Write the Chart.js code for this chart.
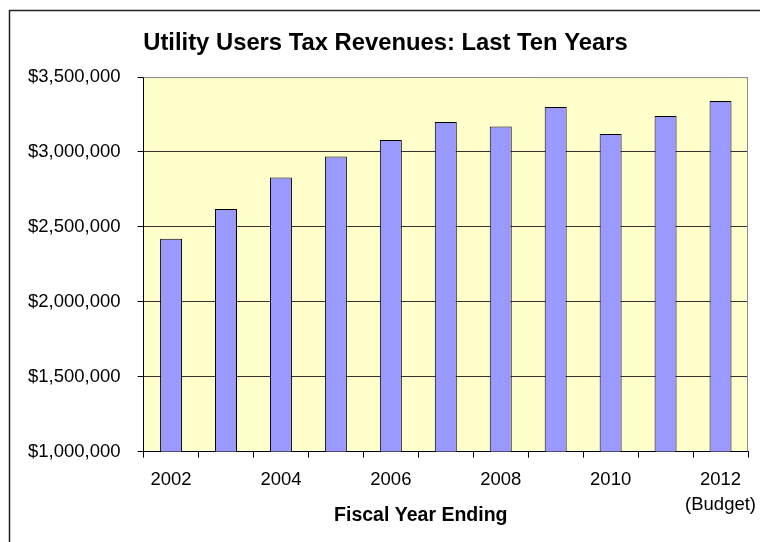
<!DOCTYPE html>
<html>
<head>
<meta charset="utf-8">
<script src="https://cdn.jsdelivr.net/npm/chart.js@4/dist/chart.umd.min.js"></script>
<style>
  html, body { margin: 0; padding: 0; background: #fff; }
  #wrap { width: 760px; height: 542px; position: relative; }
</style>
</head>
<body>
<div id="wrap"><canvas id="uutChart"></canvas></div>
<script>
const years = ["2002", "2003", "2004", "2005", "2006", "2007", "2008", "2009", "2010", "2011", "2012"];
const revenues = [2420000, 2620000, 2830000, 2970000, 3080000, 3200000, 3170000, 3300000, 3120000, 3240000, 3340000];
// every other year is labelled, the last one is the budget year
const tickLabels = ["2002", "", "2004", "", "2006", "", "2008", "", "2010", "", ["2012", "(Budget)"]];
const yTicks = [1000000, 1500000, 2000000, 2500000, 3000000, 3500000];

const FONT = "'Liberation Sans', Arial, sans-serif";

// white page, outer frame, yellow plot area
const frame = {
  id: "frame",
  beforeDraw(chart) {
    const ctx = chart.ctx;
    const a = chart.chartArea;
    ctx.save();
    ctx.fillStyle = "#fff";
    ctx.fillRect(0, 0, chart.width, chart.height);
    ctx.strokeStyle = "#222";
    ctx.lineWidth = 1.5;
    ctx.strokeRect(9.5, 10.5, chart.width + 20, chart.height + 20);
    ctx.fillStyle = "#FFFFCC";
    ctx.fillRect(a.left, a.top, a.right - a.left, a.bottom - a.top);
    ctx.restore();
  },
  afterDraw(chart) {
    const ctx = chart.ctx;
    const a = chart.chartArea;
    ctx.save();
    ctx.strokeStyle = "#8c8c8c";
    ctx.lineWidth = 1;
    ctx.beginPath();
    ctx.moveTo(a.left, a.top + 0.5);
    ctx.lineTo(a.right - 0.5, a.top + 0.5);
    ctx.lineTo(a.right - 0.5, a.bottom);
    ctx.stroke();
    // axis title
    ctx.fillStyle = "#000";
    ctx.font = "bold 19.5px " + FONT;
    ctx.textAlign = "center";
    ctx.textBaseline = "middle";
    ctx.fillText("Fiscal Year Ending", (a.left + a.right) / 2 - 25, a.bottom + 64);
    ctx.restore();
  }
};

const data = {
  labels: years,
  datasets: [{
    label: "Utility Users Tax",
    data: revenues,
    backgroundColor: "#9999FF",
    borderColor: "#000",
    borderWidth: 1,
    barPercentage: 0.4,
    categoryPercentage: 1.0
  }]
};

const config = {
  type: "bar",
  data,
  plugins: [frame],
  options: {
    responsive: true,
    maintainAspectRatio: false,
    animation: false,
    layout: { padding: { left: 23, right: 12, top: 0, bottom: 14.5 } },
    plugins: {
      legend: { display: false },
      tooltip: { enabled: false },
      title: {
        display: true,
        text: "Utility Users Tax Revenues: Last Ten Years",
        color: "#000",
        font: { family: FONT, size: 23.8, weight: "bold" },
        padding: { top: 29, bottom: 19.5 }
      }
    },
    scales: {
      x: {
        // the budget label may hang past the plot edge
        afterFit: (s) => { s.paddingLeft = 0; s.paddingRight = 0; },
        grid: {
          offset: true,
          drawOnChartArea: false,
          drawTicks: true,
          tickLength: 6,
          color: "#000"
        },
        border: { display: true, color: "#000", width: 1 },
        ticks: {
          autoSkip: false,
          maxRotation: 0,
          padding: 10,
          color: "#000",
          font: { family: FONT, size: 18.5, lineHeight: 1.35 },
          callback: (v, i) => tickLabels[i]
        }
      },
      y: {
        min: yTicks[0],
        max: yTicks[yTicks.length - 1],
        afterBuildTicks: (scale) => { scale.ticks = yTicks.map(v => ({ value: v })); },
        afterFit: (s) => { s.width -= 12; },
        grid: {
          color: (c) => (c.tick && c.tick.value === yTicks[yTicks.length - 1] ? "#8c8c8c" : "#333"),
          tickColor: "#000",
          tickLength: 6,
          lineWidth: 1
        },
        border: { display: true, color: "#000", width: 1 },
        ticks: {
          padding: 17,
          color: "#000",
          font: { family: FONT, size: 18.5 },
          callback: (v) => "$" + Number(v).toLocaleString("en-US")
        }
      }
    }
  }
};

var myChart = new Chart(document.getElementById("uutChart"), config);
</script>
</body>
</html>
